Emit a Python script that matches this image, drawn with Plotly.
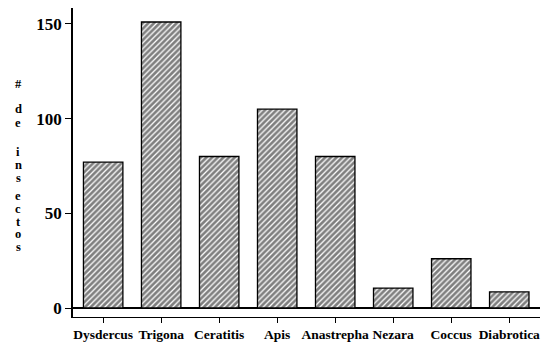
import plotly.graph_objects as go

categories = ["Dysdercus", "Trigona", "Ceratitis", "Apis", "Anastrepha", "Nezara", "Coccus", "Diabrotica"]
insectos = [77, 151, 80, 105, 80, 10.5, 26, 8.5]
y_ticks = [0, 50, 100, 150]
y_label_letters = ["#", "d", "e", "i", "n", "s", "e", "c", "t", "o", "s"]
y_label_px = [84, 109, 123, 152, 165, 178, 196, 209, 222, 234, 247]

FONT = "Liberation Serif, Times New Roman, serif"

# page body has an 8px default margin; compensate so the chart lands where the reference is
OFF = 8
W, H = 553 - OFF, 346 - OFF
ml, mr, mt, mb = 73 - OFF, 13, 0, 29
pw = W - ml - mr
ph = H - mt - mb

fig = go.Figure()
fig.add_trace(go.Bar(
    x=list(range(len(categories))),
    y=insectos,
    width=0.68,
    marker=dict(
        color="white",
        line=dict(color="black", width=1.3),
        pattern=dict(shape="/", fgcolor="black", bgcolor="white", size=4, solidity=0.68),
    ),
))

annotations = []
for ch, py in zip(y_label_letters, y_label_px):
    annotations.append(dict(
        x=(18 - OFF - ml) / pw, xref="paper",
        y=(H - mb - (py - OFF)) / ph, yref="paper",
        text="<b>%s</b>" % ch, showarrow=False,
        font=dict(family=FONT, size=12.5, color="black"),
        xanchor="center", yanchor="middle",
    ))

fig.update_layout(
    width=W, height=H,
    margin=dict(l=ml, r=mr, t=mt, b=mb, autoexpand=False),
    paper_bgcolor="white", plot_bgcolor="white",
    showlegend=False,
    annotations=annotations,
    xaxis=dict(
        range=[-0.52, 7.53],
        tickvals=list(range(len(categories))),
        ticktext=["<b>%s</b>" % c for c in categories],
        tickfont=dict(family=FONT, size=13.5, color="black"),
        ticks="outside", ticklen=5, tickcolor="black", tickwidth=1,
        showline=True, linecolor="black", linewidth=1.2,
        showgrid=False, zeroline=False, automargin=False,
    ),
    yaxis=dict(
        range=[-4.75, 158.4],
        tickvals=y_ticks,
        ticktext=["<b>%d</b>" % v for v in y_ticks],
        tickfont=dict(family=FONT, size=17, color="black"),
        ticks="outside", ticklen=6, tickcolor="black", tickwidth=1.2,
        showline=True, linecolor="black", linewidth=1.5,
        showgrid=False, automargin=False,
        zeroline=True, zerolinecolor="black", zerolinewidth=1.5,
    ),
)

fig.write_html("out.html")
